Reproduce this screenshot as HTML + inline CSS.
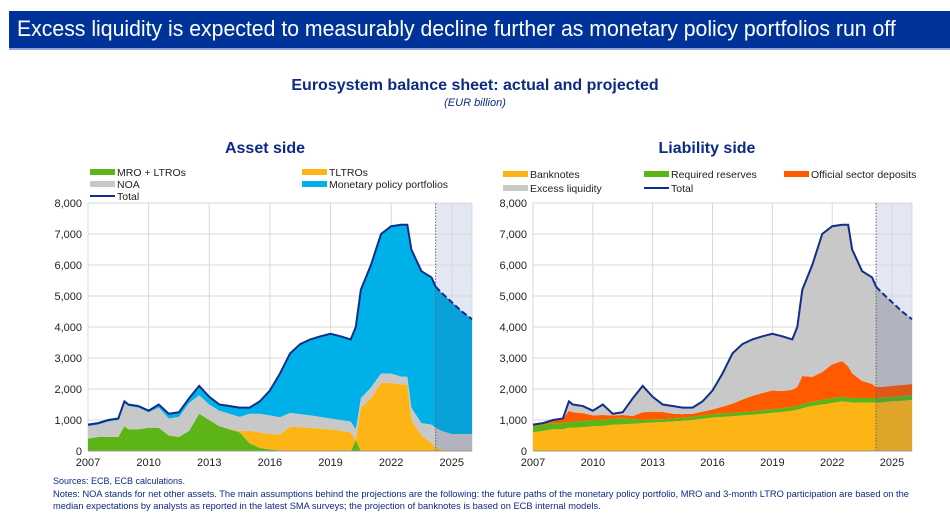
<!DOCTYPE html>
<html><head><meta charset="utf-8"><style>
body{margin:0;width:950px;height:532px;background:#fff;font-family:"Liberation Sans",sans-serif;overflow:hidden;position:relative}
.banner{position:absolute;left:9px;top:11px;width:941px;height:37px;background:#003399;border-bottom:2px solid #8fa6d6}
.banner span{position:absolute;left:8px;top:5px;color:#fff;font-size:22px;white-space:nowrap;transform:scaleX(0.965);transform-origin:left}
.t{position:absolute;color:#0c2a86;white-space:nowrap}
</style></head><body>
<div class="banner"><span>Excess liquidity is expected to measurably decline further as monetary policy portfolios run off</span></div>
<div class="t" style="left:0;width:950px;text-align:center;top:77px;font-weight:bold;font-size:16px">Eurosystem balance sheet: actual and projected</div>
<div class="t" style="left:0;width:950px;text-align:center;top:97px;font-style:italic;font-size:11px">(EUR billion)</div>
<svg id="svg" width="950" height="532" style="position:absolute;left:0;top:0"></svg>
<div class="t" style="left:53px;top:476px;font-size:9px">Sources: ECB, ECB calculations.</div>
<div class="t" style="left:53px;top:488px;font-size:9.3px;line-height:12px">Notes: NOA stands for net other assets. The main assumptions behind the projections are the following: the future paths of the monetary policy portfolio, MRO and 3-month LTRO participation are based on the<br>median expectations by analysts as reported in the latest SMA surveys; the projection of banknotes is based on ECB internal models.</div>
<script>
const times=[2007,2007.5,2008,2008.5,2008.8,2009,2009.5,2010,2010.5,2011,2011.5,2012,2012.5,2013,2013.5,2014,2014.5,2015,2015.5,2016,2016.5,2017,2017.5,2018,2018.5,2019,2019.5,2020,2020.25,2020.5,2021,2021.5,2022,2022.5,2022.8,2023,2023.5,2024,2024.2,2024.5,2025,2025.5,2026];
const total=[850,900,1000,1050,1600,1500,1450,1300,1500,1200,1250,1700,2100,1750,1500,1450,1400,1400,1600,1950,2500,3150,3450,3600,3700,3780,3700,3600,4000,5200,6000,7000,7250,7300,7300,6500,5800,5600,5300,5100,4800,4500,4250];
const mro=[400,450,450,450,800,700,700,750,750,500,450,650,1200,1000,800,700,600,250,100,50,20,0,0,0,0,0,0,0,350,0,0,0,0,0,0,0,0,0,0,0,0,0,0];
const tltro=[0,0,0,0,0,0,0,0,0,0,0,0,0,0,0,0,50,400,500,500,520,780,770,750,720,700,650,600,0,1400,1700,2200,2200,2150,2150,1000,500,250,100,50,0,0,0];
const noa=[400,400,500,550,750,750,700,500,650,550,650,900,600,500,500,500,450,550,600,600,550,450,420,400,380,350,350,350,350,300,350,300,300,250,250,400,400,600,650,600,550,550,550];
const mpp=[50,50,50,50,50,50,50,50,100,150,150,150,300,250,200,250,300,200,400,800,1410,1920,2260,2450,2600,2730,2700,2650,3300,3500,3950,4500,4750,4900,4900,5100,4900,4750,4550,4450,4250,3950,3700];
const banknotes=[600,650,700,700,750,750,770,800,810,850,860,880,900,920,930,950,970,1000,1040,1080,1100,1120,1150,1170,1200,1230,1260,1300,1330,1380,1450,1500,1550,1600,1580,1560,1560,1560,1560,1570,1600,1620,1650];
const reserves=[200,200,200,200,200,200,200,200,200,200,200,150,100,100,100,100,100,100,110,110,110,110,110,110,120,120,120,130,130,140,140,150,150,150,150,150,150,150,150,150,150,160,160];
const osd=[50,50,100,150,350,300,250,150,150,100,100,100,250,250,230,150,120,100,120,150,220,300,400,500,550,600,550,550,600,900,800,900,1100,1150,1000,800,550,450,350,350,350,350,350];
const excess=[0,0,0,0,300,250,230,150,340,50,90,570,850,480,240,250,210,200,330,610,1070,1620,1790,1820,1830,1830,1770,1620,1940,2780,3610,4450,4450,4400,4570,3990,3540,3440,3240,3030,2700,2370,2090];
const xTicks=[2007,2010,2013,2016,2019,2022,2025];
const yTicks=[0,1000,2000,3000,4000,5000,6000,7000,8000];
const projStart=2024.2;
const NS='http://www.w3.org/2000/svg';
const svg=document.getElementById('svg');
function mk(tag,attrs,parent){const e=document.createElementNS(NS,tag);for(const k in attrs)e.setAttribute(k,attrs[k]);(parent||svg).appendChild(e);return e;}
function chart(cfg){
  const x=t=>cfg.x0+(t-2007)/(2026-2007)*(cfg.x1-cfg.x0);
  const y=v=>451-v/8000*248;
  const g=mk('g',{});
  
  
  mk('rect',{x:x(projStart),y:y(8000),width:x(2026)-x(projStart),height:248,fill:'#e2e7f3'},g);
  yTicks.forEach(v=>{const l=mk('line',{x1:cfg.x0,x2:cfg.x1,y1:y(v),y2:y(v),stroke:'#d9d9d9','stroke-width':1},g);
    
    const tx=mk('text',{x:cfg.x0-6,y:y(v)+4,'text-anchor':'end','font-size':11,fill:'#222'},g);tx.textContent=v.toLocaleString('en-US');
    });
  xTicks.forEach(t=>{const l=mk('line',{x1:x(t),x2:x(t),y1:y(0),y2:y(8000),stroke:'#d9d9d9','stroke-width':1},g);
    
    const tx=mk('text',{x:x(t),y:466,'text-anchor':'middle','font-size':11,fill:'#222'},g);tx.textContent=t;
    });
  mk('line',{x1:cfg.x1,x2:cfg.x1,y1:y(0),y2:y(8000),stroke:'#d9d9d9'},g);
  let base=times.map(()=>0);
  cfg.series.forEach(s=>{
    const top=base.map((b,i)=>b+s.vals[i]);
    let d='M'+times.map((t,i)=>x(t)+','+y(top[i])).join('L');
    for(let i=times.length-1;i>=0;i--)d+='L'+x(times[i])+','+y(base[i]);
    const p=mk('path',{d:d+'Z',fill:s.color},g);
    
    base=top;});
  const pi=times.indexOf(projStart);
  let od='M'+x(projStart)+','+y(0)+'L'+times.slice(pi).map((t,i)=>x(t)+','+y(total[i+pi])).join('L')+'L'+x(2026)+','+y(0)+'Z';
  mk('path',{d:od,fill:'rgba(60,80,140,0.16)'},g);
  mk('line',{x1:x(projStart),x2:x(projStart),y1:y(0),y2:y(8000),stroke:'#666','stroke-dasharray':'1.5,1.5'},g);
  const l1=mk('path',{d:'M'+times.slice(0,pi+1).map((t,i)=>x(t)+','+y(total[i])).join('L'),fill:'none',stroke:'#0f2f8a','stroke-width':2},g);
  
  const l2=mk('path',{d:'M'+times.slice(pi).map((t,i)=>x(t)+','+y(total[i+pi])).join('L'),fill:'none',stroke:'#0f2f8a','stroke-width':2,'stroke-dasharray':'6,3'},g);
  
  mk('line',{x1:cfg.x0,x2:cfg.x1,y1:y(0),y2:y(0),stroke:'#999'},g);
  const st=mk('text',{x:cfg.titleX,y:153,'text-anchor':'middle','font-size':16,'font-weight':'bold',fill:'#0c2a86'},g);st.textContent=cfg.title;
  
  cfg.legend.forEach(L=>{
    const lg=mk('g',{},g);
    
    if(L.line)mk('rect',{x:L.x,y:L.y-1,width:25,height:2,fill:L.color},lg);
    else mk('rect',{x:L.x,y:L.y-3,width:25,height:6,fill:L.color},lg);
    const tx=mk('text',{x:L.x+27,y:L.y+4,'font-size':10.5,fill:'#222'},lg);tx.textContent=L.label;});
}
chart({name:'asset-side-chart',x0:88,x1:472,title:'Asset side',titleX:265,
  series:[{key:'mro-ltros',vals:mro,color:'#5cb416'},{key:'tltros',vals:tltro,color:'#fdb515'},{key:'noa',vals:noa,color:'#c8c8c8'},{key:'monetary-policy-portfolios',vals:mpp,color:'#00b0e8'}],
  legend:[{x:90,y:172,label:'MRO + LTROs',color:'#5cb416'},{x:302,y:172,label:'TLTROs',color:'#fdb515'},{x:90,y:184,label:'NOA',color:'#c8c8c8'},{x:302,y:184,label:'Monetary policy portfolios',color:'#00b0e8'},{x:90,y:196,label:'Total',color:'#0f2f8a',line:true}]});
chart({name:'liability-side-chart',x0:533,x1:912,title:'Liability side',titleX:707,
  series:[{key:'banknotes',vals:banknotes,color:'#fdb515'},{key:'required-reserves',vals:reserves,color:'#5cb416'},{key:'official-sector-deposits',vals:osd,color:'#ff5a00'},{key:'excess-liquidity',vals:excess,color:'#c8c8c8'}],
  legend:[{x:503,y:174,label:'Banknotes',color:'#fdb515'},{x:644,y:174,label:'Required reserves',color:'#5cb416'},{x:784,y:174,label:'Official sector deposits',color:'#ff5a00'},{x:503,y:188,label:'Excess liquidity',color:'#c8c8c8'},{x:644,y:188,label:'Total',color:'#0f2f8a',line:true}]});
</script>
</body></html>
